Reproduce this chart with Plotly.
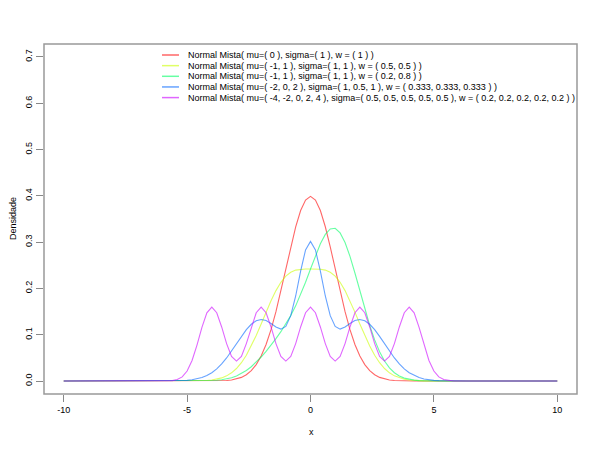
import plotly.graph_objects as go

# x grid used for evaluation (-10 .. 10, step 0.2)
xs = [round(-10 + 0.2 * i, 1) for i in range(101)]

# densities for x >= 0 (symmetric series), x = 0, 0.2, ..., 10
red_half = [0.39894, 0.39104, 0.36827, 0.33322, 0.28969, 0.24197, 0.19419, 0.14973,
            0.11092, 0.07895, 0.05399, 0.03547, 0.02239, 0.01358, 0.00792, 0.00443,
            0.00238, 0.00123, 0.00061, 0.00029, 0.00013, 0.00006, 0.00002, 0.00001] + [0.0] * 27
yellow_half = [0.24197, 0.24194, 0.24148, 0.23960, 0.23500, 0.22647, 0.21326, 0.19533,
               0.17340, 0.14881, 0.12320, 0.09829, 0.07548, 0.05577, 0.03962, 0.02706,
               0.01777, 0.01121, 0.00680, 0.00396, 0.00222, 0.00119, 0.00062, 0.00031,
               0.00014, 0.00007, 0.00003, 0.00001] + [0.0] * 23
blue_half = [0.30165, 0.28337, 0.23733, 0.18371, 0.14118, 0.11801, 0.11217, 0.11665,
             0.12442, 0.13072, 0.13298, 0.13025, 0.12264, 0.11097, 0.09647, 0.08058,
             0.06467, 0.04986, 0.03694, 0.02629, 0.01798, 0.01181, 0.00746, 0.00452,
             0.00264, 0.00148, 0.00079, 0.00041, 0.00020, 0.00010, 0.00004, 0.00002,
             0.00001] + [0.0] * 18
magenta_half = [0.15968, 0.14756, 0.11683, 0.08084, 0.05332, 0.04319, 0.05332, 0.08084,
                0.11683, 0.14756, 0.15968, 0.14756, 0.11683, 0.08084, 0.05332, 0.04319,
                0.05332, 0.08084, 0.11683, 0.14755, 0.15963, 0.14732, 0.11588, 0.07768,
                0.04437, 0.02160, 0.00896, 0.00317, 0.00095, 0.00024, 0.00005,
                0.00001] + [0.0] * 19

# non-symmetric series, full grid
green_full = [0.0] * 24 + [
    0.00001, 0.00003, 0.00006, 0.00012, 0.00025, 0.00048, 0.00089, 0.00159,
    0.00273, 0.00450, 0.00714, 0.01091, 0.01602, 0.02267, 0.03093, 0.04074,
    0.05193, 0.06428, 0.07750, 0.09156, 0.10659, 0.12298, 0.14137, 0.16239,
    0.18642, 0.21329, 0.24197, 0.27059, 0.29653, 0.31680, 0.32862, 0.32995,
    0.31992, 0.29910, 0.26930, 0.23333, 0.19447, 0.15583, 0.12003, 0.08886,
    0.06322, 0.04322, 0.02839, 0.01791, 0.01086, 0.00634, 0.00354, 0.00190,
    0.00098, 0.00049, 0.00023, 0.00011, 0.00005, 0.00002, 0.00001] + [0.0] * 22


def mirror(half):
    return half[:0:-1] + half


series = [mirror(red_half), mirror(yellow_half), green_full, mirror(blue_half), mirror(magenta_half)]

labels = [
    "Normal Mista( mu=( 0 ), sigma=( 1 ), w = ( 1 ) )",
    "Normal Mista( mu=( -1, 1 ), sigma=( 1, 1 ), w = ( 0.5, 0.5 ) )",
    "Normal Mista( mu=( -1, 1 ), sigma=( 1, 1 ), w = ( 0.2, 0.8 ) )",
    "Normal Mista( mu=( -2, 0, 2 ), sigma=( 1, 0.5, 1 ), w = ( 0.333, 0.333, 0.333 ) )",
    "Normal Mista( mu=( -4, -2, 0, 2, 4 ), sigma=( 0.5, 0.5, 0.5, 0.5, 0.5 ), w = ( 0.2, 0.2, 0.2, 0.2, 0.2 ) )",
]
colors = ["rgba(255,0,0,0.6)", "rgba(204,255,0,0.6)", "rgba(0,255,102,0.6)",
          "rgba(0,102,255,0.6)", "rgba(204,0,255,0.6)"]

xticks = [-10, -5, 0, 5, 10]
xticklabels = ["-10", "-5", "0", "5", "10"]
yticks = [0.0, 0.1, 0.2, 0.3, 0.4, 0.5, 0.6, 0.7]
yticklabels = ["0.0", "0.1", "0.2", "0.3", "0.4", "0.5", "0.6", "0.7"]

# the page body has an 8px margin; compensate so the plot box lands at 44..577 x 44..394
OFF = 8
W, H = 584, 434
L, T = 44 - OFF, 44 - OFF
pw, ph = 533, 350
R, B = W - L - pw, H - T - ph


def px_x(px):
    return (px - OFF - L) / pw


def px_y(py):
    return (T + ph - (py - OFF)) / ph


fig = go.Figure()
for ys, c, lab in zip(series, colors, labels):
    fig.add_trace(go.Scatter(x=xs, y=ys, mode="lines", name=lab,
                             line=dict(color=c, width=1.1), showlegend=False))

font = dict(family="Liberation Sans, Arial, sans-serif", size=9, color="#000000")

# plot box
shapes = [dict(type="rect", xref="paper", yref="paper", x0=0, x1=1, y0=0, y1=1,
               line=dict(color="#999999", width=1.5), layer="above")]
annotations = []
for i, (c, lab) in enumerate(zip(colors, labels)):
    py = 55 + i * 10.65
    shapes.append(dict(type="line", xref="paper", yref="paper",
                       x0=px_x(162), x1=px_x(179), y0=px_y(py), y1=px_y(py),
                       line=dict(color=c, width=1.5)))
    annotations.append(dict(text=lab, xref="paper", yref="paper", x=px_x(186), y=px_y(py),
                            xanchor="left", yanchor="middle", showarrow=False, font=font))

annotations.append(dict(text="x", xref="paper", yref="paper", x=px_x(311), y=px_y(432),
                        xanchor="center", yanchor="middle", showarrow=False, font=font))
annotations.append(dict(text="Densidade", xref="paper", yref="paper", x=px_x(13), y=px_y(219),
                        xanchor="center", yanchor="middle", showarrow=False, textangle=-90,
                        font=font))

axis_common = dict(showgrid=False, zeroline=False, showline=False,
                   ticks="outside", ticklen=7, tickwidth=1,
                   tickcolor="#888888", tickfont=font)

fig.update_layout(
    width=W, height=H,
    margin=dict(l=L, r=R, t=T, b=B, pad=0, autoexpand=False),
    paper_bgcolor="white", plot_bgcolor="white",
    xaxis=dict(range=[-10.8, 10.8], tickvals=xticks, ticktext=xticklabels, **axis_common),
    yaxis=dict(range=[-0.028, 0.728], tickvals=yticks, ticktext=yticklabels,
               tickangle=-90, **axis_common),
    shapes=shapes, annotations=annotations,
)

fig.write_html("out.html")
